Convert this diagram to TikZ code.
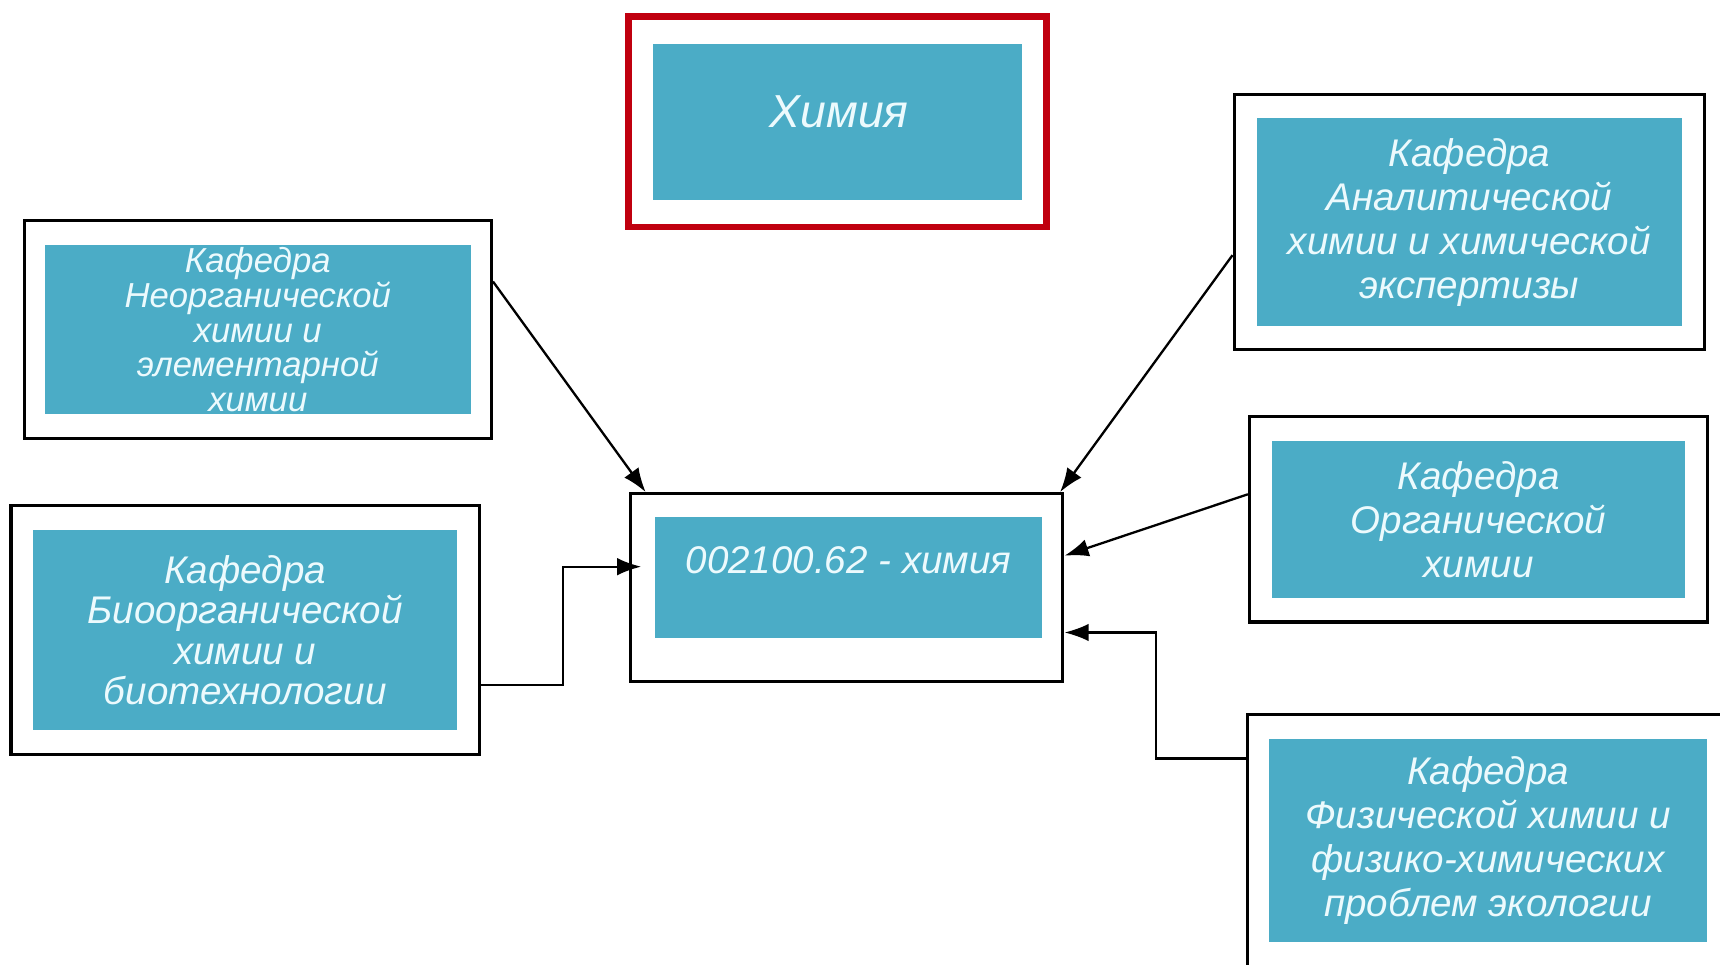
\documentclass[tikz,border=0pt]{standalone}
\usepackage{fontspec}
\setmainfont{Liberation Sans}
\usetikzlibrary{positioning,calc,arrows.meta}
\definecolor{deptblue}{RGB}{75,172,198}
\definecolor{framered}{RGB}{192,0,15}
\definecolor{depttext}{RGB}{236,250,253}

\begin{document}
\begin{tikzpicture}[x=0.1mm,y=-0.1mm,
frame/.style={rectangle,draw=black,line width=0.8pt,fill=white,inner sep=0pt},
dept/.style={rectangle,fill=deptblue,inner sep=0pt,text=depttext,align=center,
  font=\fontsize{10}{11.4}\selectfont\itshape},
link/.style={line width=0.6pt,-{Latex[length=2.2mm,width=1.6mm]}}]

    \useasboundingbox (0,0) rectangle (1568,879);
    \clip (0,0) rectangle (1568,879); % the last box runs off the page

    \node[frame,draw=framered,line width=1.7pt,minimum width=38.1mm,minimum height=19.2mm] (chem) at (763.5,111) {};
    \node[dept,minimum width=33.6mm,minimum height=14.2mm] (chemt) at (chem) {};
    \node[dept,fill=none,font=\fontsize{12}{14}\selectfont\itshape] (cheml) at (765,102) {Химия};

    \node[frame,minimum width=39.4mm,minimum height=17.1mm] (prog) at (772,535.5) {};
    \node[dept,minimum width=35.3mm,minimum height=11.1mm] (progt) at (773.5,526.5) {};
    \node[dept,fill=none] (progl) at (773.5,511) {002100.62 - химия};

    \node[frame,minimum width=42.6mm,minimum height=19.9mm] (neorg) at (235,300.5) {};
    \node[dept,minimum width=38.8mm,minimum height=15.4mm,font=\fontsize{9}{9}\selectfont\itshape] (neorgt) at (neorg) {Кафедра\\Неорганической\\химии и\\элементарной\\химии};

    \node[frame,minimum width=42.7mm,minimum height=22.7mm] (bioorg) at (223.5,574.5) {};
    \node[dept,minimum width=38.7mm,minimum height=18.2mm,font=\fontsize{10}{10.5}\selectfont\itshape] (bioorgt) at (bioorg) {Кафедра\\Биоорганической\\химии и\\биотехнологии};

    \node[frame,minimum width=42.9mm,minimum height=23.3mm] (analyt) at (1339.5,202.5) {};
    \node[dept,minimum width=38.7mm,minimum height=18.9mm] (analytt) at (analyt) {Кафедра\\Аналитической\\химии и химической\\экспертизы};

    \node[frame,minimum width=41.8mm,minimum height=18.7mm] (organic) at (1348,473.5) {};
    \node[dept,minimum width=37.6mm,minimum height=14.3mm] (organict) at (organic) {Кафедра\\Органической\\химии};

    \node[frame,minimum width=43.9mm,minimum height=23mm] (phys) at (1356.5,766) {};
    \node[dept,minimum width=39.9mm,minimum height=18.5mm] (physt) at (phys) {Кафедра\\Физической химии и\\физико-химических\\проблем экологии};

    \draw[link] ($(neorg.north east)+(0,57)$) -- ($(prog.north west)+(15,0)$);
    \draw[link] ($(analyt.north west)+(0,148)$) -- ($(prog.north east)+(-4,0)$);
    \draw[link] ($(organic.north west)+(0,72)$) -- ($(prog.north east)+(0,58)$);
    \draw[link] ($(phys.north west)+(0,42)$) -- ++(-82,0) |- ($(prog.north east)+(0,128)$);
    \draw[link] ($(bioorg.east)+(0,50)$) -- ++(75,0) |- ($(prog.north west)+(11,68)$);

\end{tikzpicture}
\end{document}
